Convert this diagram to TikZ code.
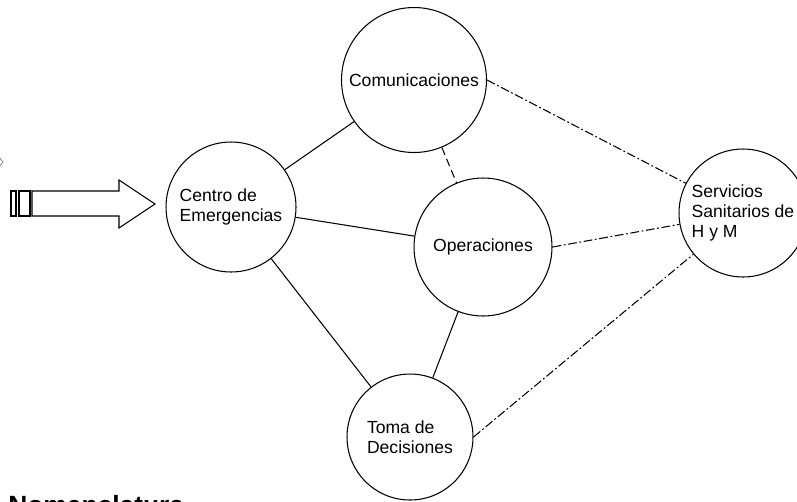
\documentclass[tikz,border=0pt]{standalone}
\usepackage{fontspec}
\setmainfont{Liberation Sans}
\begin{document}
\begin{tikzpicture}[x=0.02cm, y=-0.02cm,
    unit/.style={circle, draw=borderColour, line width=0.6pt, inner sep=0pt, align=left, font=\fontsize{10}{11.5}\selectfont},
    link/.style={draw=borderColour, line width=0.6pt},
    dashlink/.style={link, dash pattern=on 4.5pt off 2.5pt},
    dotlink/.style={link, dash pattern=on 5pt off 1.5pt on 1pt off 1.5pt}]
    \definecolor{borderColour}{HTML}{000000}
    \definecolor{fillColourA}{HTML}{FFFFFF}

    \useasboundingbox (0,0) rectangle (797,501);

    % Draw the units
    \node[unit, minimum size=2.9cm] (comm) at (414,80) {Comunicaciones};
    \node[unit, minimum size=2.6cm] (centro) at (231,207) {Centro de\\Emergencias};
    \node[unit, minimum size=2.76cm] (ops) at (483,247) {Operaciones};
    \node[unit, minimum size=2.52cm] (toma) at (410,437) {Toma de\\Decisiones};
    \node[unit, minimum size=2.56cm] (serv) at (743,213) {Servicios\\Sanitarios de\\H y M};

    % Draw solid links
    \draw[link] (centro) -- (comm);
    \draw[link] (centro) -- (ops);
    \draw[link] (centro) -- (toma);
    \draw[link] (ops) -- (toma);

    % Draw dashed and dash-dot links
    \draw[dashlink] (comm) -- (ops);
    \draw[dotlink] (comm.east) -- (serv);
    \draw[dotlink] (ops.east) -- (serv);
    \draw[dotlink] (toma.east) -- (serv);

    % Block arrow into the centre
    \filldraw[fill=fillColourA, draw=borderColour, line width=0.6pt]
        (32,191) -- (119,191) -- (119,180) -- (155,204) -- (119,228) -- (119,216) -- (32,216) -- cycle;
    \draw[borderColour, line width=0.6pt] (11,191) rectangle (16,216);
    \draw[borderColour, line width=0.6pt] (19,191) rectangle (30,216);

    % Cut-off mark at the left edge
    \draw[gray, line width=0.4pt] (0,158) -- (3,162) -- (0,166);

    % Title
    \node[anchor=base west, font=\fontsize{15}{18}\selectfont\bfseries, inner sep=0pt] (title) at (8,514) {Nomenclatura};

\end{tikzpicture}
\end{document}
